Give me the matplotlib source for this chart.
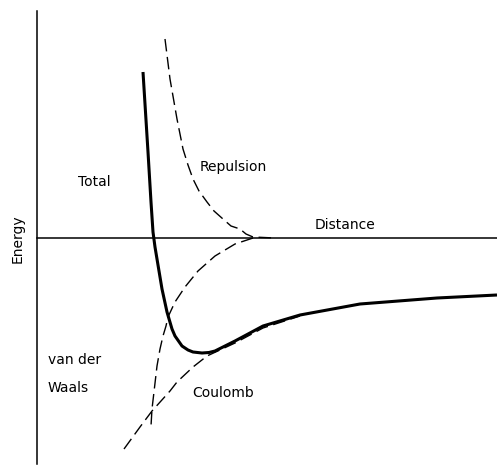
import matplotlib
matplotlib.use("Agg")
import matplotlib.pyplot as plt

# Схематическая кривая потенциальной энергии (произвольные единицы)
# r - расстояние, e - энергия

total_r = [10.6, 11.1, 11.4, 11.6, 11.8, 12.0, 12.5, 13.0, 13.5, 13.8, 14.5, 15.1, 15.6, 16.5, 17.2, 17.8, 19.8,
           22.6, 26.3, 32.3, 40.0, 46.0]
total_e = [16.6, 8.6, 3.6, 0.6, -0.9, -2.1, -5.1, -7.4, -9.1, -9.8, -10.8, -11.2, -11.4, -11.5, -11.45, -11.3, -10.3,
           -8.8, -7.7, -6.6, -6.0, -5.7]

repulsion_r = [12.8, 13.3, 14.0, 14.6, 15.1, 15.6, 16.2, 17.0, 17.7, 18.6, 19.4, 20.3, 20.9, 21.6, 23.8]
repulsion_e = [19.9, 15.9, 11.9, 8.9, 7.3, 5.9, 4.7, 3.6, 2.7, 1.9, 1.2, 0.9, 0.4, 0.1, 0.0]

vdw_r = [21.6, 19.8, 17.8, 16.1, 14.8, 13.8, 13.1, 12.9, 12.6, 12.3, 12.0, 11.5, 11.4]
vdw_e = [0.0, -0.6, -1.8, -3.3, -4.9, -6.4, -7.9, -8.8, -9.8, -11.1, -12.8, -17.1, -18.8]

coulomb_r = [8.7, 10.3, 11.5, 13.3, 14.0, 15.6, 17.0, 19.8, 22.6, 26.3]
coulomb_e = [-21.1, -18.9, -17.3, -15.3, -14.4, -12.9, -11.8, -10.5, -9.0, -7.8]

fig = plt.figure(figsize=(4.97, 4.77), dpi=100)
ax = fig.add_axes([0, 0, 1, 1])
ax.set_xlim(-3.7, 46.0)
ax.set_ylim(-23.8, 23.9)

# оси: вертикальная "Energy" и горизонтальная "Distance"
for side in ["top", "right"]:
    ax.spines[side].set_visible(False)
ax.spines["left"].set_position(("data", 0))
ax.spines["left"].set_bounds(-22.6, 22.7)
ax.spines["bottom"].set_position(("data", 0))
ax.spines["bottom"].set_bounds(0, 46.0)
ax.spines["left"].set_linewidth(1.1)
ax.spines["bottom"].set_linewidth(1.1)
ax.set_xticks([])
ax.set_yticks([])

dash = (9, 4)
ax.plot(total_r, total_e, color="black", lw=2.2, solid_capstyle="butt", solid_joinstyle="round")
ax.plot(repulsion_r, repulsion_e, color="black", lw=1.0, dashes=dash)
ax.plot(vdw_r, vdw_e, color="black", lw=1.0, dashes=dash)
ax.plot(coulomb_r, coulomb_e, color="black", lw=1.0, dashes=dash)

fs = 10
ax.text(-1.95, 0, "Energy", rotation=90, ha="center", va="center", fontsize=fs)
ax.text(4.1, 5.7, "Total", ha="left", va="center", fontsize=fs)
ax.text(16.3, 7.2, "Repulsion", ha="left", va="center", fontsize=fs)
ax.text(27.8, 1.4, "Distance", ha="left", va="center", fontsize=fs)
ax.text(1.1, -12.1, "van der", ha="left", va="center", fontsize=fs)
ax.text(1.1, -14.9, "Waals", ha="left", va="center", fontsize=fs)
ax.text(15.5, -15.4, "Coulomb", ha="left", va="center", fontsize=fs)

fig.savefig("out.png", dpi=100)
plt.close(fig)
